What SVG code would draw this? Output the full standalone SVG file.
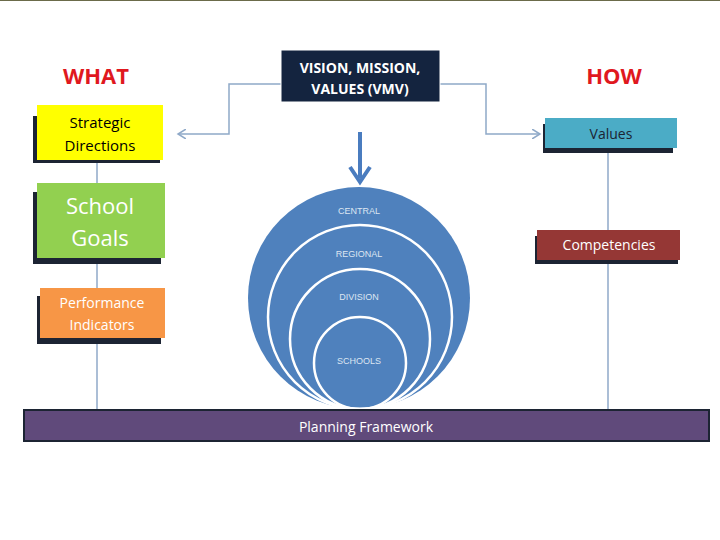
<svg xmlns="http://www.w3.org/2000/svg" width="720" height="540" viewBox="0 0 720 540">
<style>
.t{font-family:"Open Sans","Liberation Sans",sans-serif;text-anchor:middle}
.c{fill:none;stroke:#fff;stroke-width:2.5}
.ct{font-family:"Liberation Sans",Arial,sans-serif;font-size:9px;fill:#dde6f2;text-anchor:middle}
.sh{fill:#1c2433}
.ln{fill:none;stroke:#8fa9c8;stroke-width:1.5}
</style>
<defs>
<marker id="a" markerWidth="10" markerHeight="10" refX="8" refY="5" orient="auto" markerUnits="userSpaceOnUse"><path d="M0,0 L8,5 L0,10" fill="none" stroke="#8fa9c8" stroke-width="1.5"/></marker>
</defs>
<rect width="720" height="540" fill="#fff"/>
<line x1="0" y1="0.5" x2="720" y2="0.5" stroke="#6b6b4a" stroke-width="1"/>
<text x="96" y="84" class="t" font-size="22" font-weight="bold" fill="#e0181e">WHAT</text>
<text x="614" y="84" class="t" font-size="22" font-weight="bold" fill="#e0181e">HOW</text>
<g id="connectors">
<line class="ln" x1="97" y1="160" x2="97" y2="410"/>
<line class="ln" x1="608" y1="148" x2="608" y2="410"/>
<polyline class="ln" points="281,84 229,84 229,134 178,134" marker-end="url(#a)"/>
<polyline class="ln" points="440,84 486,84 486,134 540,134" marker-end="url(#a)"/>
<line x1="360" y1="132" x2="360" y2="178" stroke="#4a7cbf" stroke-width="4"/>
<path d="M350,167 L360,182 L370,167" fill="none" stroke="#4a7cbf" stroke-width="4"/>
</g>
<g id="vmv">
<rect x="281" y="50" width="159" height="52" fill="#14243f" stroke="#fff" stroke-width="1"/>
<text x="360" y="73" class="t" font-size="14" font-weight="bold" fill="#fff">VISION, MISSION,</text>
<text x="360" y="94" class="t" font-size="14" font-weight="bold" fill="#fff">VALUES (VMV)</text>
</g>
<g id="circles">
<circle cx="359" cy="298" r="111" fill="#4f81bd"/>
<circle class="c" cx="360" cy="317" r="92"/>
<circle class="c" cx="360" cy="339" r="70"/>
<circle class="c" cx="360" cy="363" r="46"/>
<text class="ct" x="359" y="214">CENTRAL</text>
<text class="ct" x="359" y="257">REGIONAL</text>
<text class="ct" x="359" y="300">DIVISION</text>
<text class="ct" x="359" y="364">SCHOOLS</text>
</g>
<g id="strategic">
<rect class="sh" x="33" y="116" width="127" height="47"/>
<rect x="37" y="105" width="126" height="55" fill="#ffff00"/>
<text x="100" y="128" class="t" font-size="15">Strategic</text>
<text x="100" y="151" class="t" font-size="15">Directions</text>
</g>
<g id="goals">
<rect class="sh" x="33" y="192" width="128" height="72"/>
<rect x="37" y="183" width="128" height="75" fill="#92d050"/>
<text x="100" y="214" class="t" font-size="22" fill="#fff">School</text>
<text x="100" y="246" class="t" font-size="22" fill="#fff">Goals</text>
</g>
<g id="perf">
<rect class="sh" x="37" y="296" width="124" height="48"/>
<rect x="40" y="288" width="125" height="50" fill="#f79646"/>
<text x="102" y="308" class="t" font-size="14" fill="#fff">Performance</text>
<text x="102" y="330" class="t" font-size="14" fill="#fff">Indicators</text>
</g>
<g id="values">
<rect class="sh" x="543" y="124" width="130" height="29"/>
<rect x="545" y="118" width="132" height="30" fill="#4bacc6"/>
<text x="611" y="139" class="t" font-size="14" fill="#1c2433">Values</text>
</g>
<g id="competencies">
<rect class="sh" x="535" y="236" width="143" height="28"/>
<rect x="537" y="230" width="143" height="30" fill="#953735"/>
<text x="609" y="250" class="t" font-size="14" fill="#fff">Competencies</text>
</g>
<g id="planning">
<rect x="24" y="410" width="685" height="31" fill="#604a7b" stroke="#1c2433" stroke-width="2"/>
<text x="366" y="432" class="t" font-size="14" fill="#fff">Planning Framework</text>
</g>
</svg>
